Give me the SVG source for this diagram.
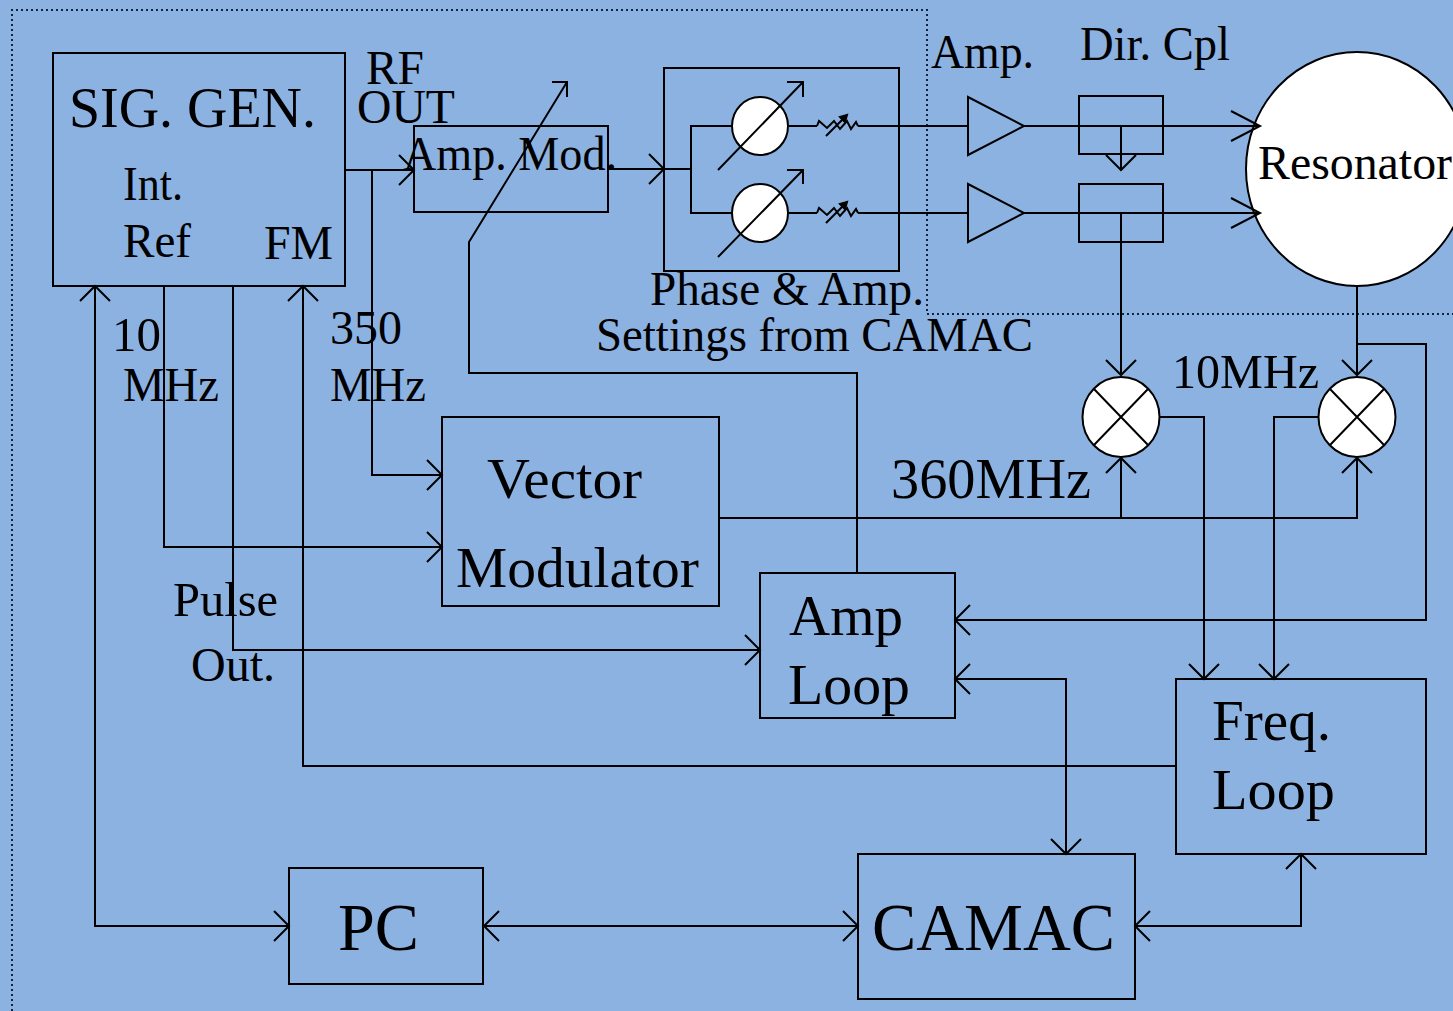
<svg xmlns="http://www.w3.org/2000/svg" width="1453" height="1011" viewBox="0 0 1453 1011">
<style>
text{font-family:"Liberation Serif","Times New Roman",serif;fill:#000}
.b{fill:none;stroke:#000;stroke-width:2}
.c{fill:none;stroke:#000;stroke-width:2}
.w{fill:#fff;stroke:#000;stroke-width:2}
.d{fill:none;stroke:#10233f;stroke-width:2;stroke-dasharray:2 3}
.s{font-size:48px}
.m{font-size:58px}
.l{font-size:67px}
</style>
<defs>
<marker id="a" markerUnits="userSpaceOnUse" markerWidth="18" markerHeight="34" refX="15" refY="15" orient="auto-start-reverse" viewBox="0 0 18 30" overflow="visible"><path d="M0 0L15 15L0 30" fill="none" stroke="#000" stroke-width="2"/></marker>
<marker id="r" markerUnits="userSpaceOnUse" markerWidth="32" markerHeight="34" refX="29" refY="15" orient="auto" viewBox="0 0 32 30" overflow="visible"><path d="M0 0L29 15L0 30" fill="none" stroke="#000" stroke-width="2"/></marker>
</defs>
<rect width="1453" height="1011" fill="#8cb2e2"/>
<path class="d" d="M12 1011V10H927V314H1453"/>
<g id="resonator"><ellipse class="w" cx="1357" cy="169" rx="111" ry="117"/>
<text class="s" x="1258" y="179" textLength="194" lengthAdjust="spacingAndGlyphs">Resonator</text></g>
<g id="connectors">
<path class="c" d="M345 170H414" marker-end="url(#a)"/>
<path class="c" d="M608 169H664" marker-end="url(#a)"/>
<path class="c" d="M664 169H691M760 126H691V213H760"/>
<path class="c" d="M789 126H817M858 126H968M789 213H817M858 213H968"/>
<path class="c" d="M1024 126H1260" marker-end="url(#r)"/>
<path class="c" d="M1024 213H1260" marker-end="url(#r)"/>
<path class="c" d="M1121 125V170" marker-end="url(#a)"/>
<path class="c" d="M1121 213V375" marker-end="url(#a)"/>
<path class="c" d="M1357 286V375" marker-end="url(#a)"/>
<path class="c" d="M372 170V475H442" marker-end="url(#a)"/>
<path class="c" d="M164 286V547H442" marker-end="url(#a)"/>
<path class="c" d="M233 286V650H760" marker-end="url(#a)"/>
<path class="c" d="M719 518H1357V458" marker-end="url(#a)"/>
<path class="c" d="M1121 518V458" marker-end="url(#a)"/>
<path class="c" d="M1357 344H1426V620H955" marker-end="url(#a)"/>
<path class="c" d="M1160 417H1204V679" marker-end="url(#a)"/>
<path class="c" d="M1318 417H1274V679" marker-end="url(#a)"/>
<path class="c" d="M955 679H1066V854" marker-start="url(#a)" marker-end="url(#a)"/>
<path class="c" d="M1176 766H303V286" marker-end="url(#a)"/>
<path class="c" d="M95 286V926H289" marker-start="url(#a)" marker-end="url(#a)"/>
<path class="c" d="M484 926H858" marker-start="url(#a)" marker-end="url(#a)"/>
<path class="c" d="M1135 926H1301V854" marker-start="url(#a)" marker-end="url(#a)"/>
<path class="c" d="M857 573V373H469V242L567 82M552 82H567V97"/>
</g>
<g id="sig-gen"><rect class="b" x="53" y="53" width="292" height="233"/>
<text class="m" x="69" y="127" textLength="247" lengthAdjust="spacingAndGlyphs">SIG. GEN.</text>
<text class="s" x="123" y="200" textLength="60" lengthAdjust="spacingAndGlyphs">Int.</text>
<text class="s" x="123" y="257" textLength="68" lengthAdjust="spacingAndGlyphs">Ref</text>
<text class="s" x="264" y="259" textLength="69" lengthAdjust="spacingAndGlyphs">FM</text></g>
<g id="amp-mod"><rect class="b" x="414" y="126" width="194" height="86"/>
<text class="s" x="403" y="170" textLength="214" lengthAdjust="spacingAndGlyphs">Amp. Mod.</text></g>
<g id="phase-amp"><rect class="b" x="664" y="68" width="235" height="203"/>
<ellipse class="w" cx="760" cy="126" rx="28" ry="29"/>
<ellipse class="w" cx="760" cy="213" rx="28" ry="29"/>
<path class="c" d="M718 170L803 82M787 82H803V97M718 257L803 170M787 170H803V184"/>
<path id="res1" class="c" d="M817 126L819 121L827 128L834 121L840 129L847 121L851 129L856 122L858 126M826 136L845 117"/>
<path d="M840 117L847 115L845 122Z" stroke="#000" stroke-width="2"/>
<path class="c" d="M817 213L819 208L827 215L834 208L840 216L847 208L851 216L856 209L858 213M826 223L845 204"/>
<path d="M840 204L847 202L845 209Z" stroke="#000" stroke-width="2"/></g>
<g id="amp1"><path class="b" d="M968 97V155L1024 126Z"/></g>
<g id="amp2"><path class="b" d="M968 184V242L1024 213Z"/></g>
<g id="coupler1"><rect class="b" x="1079" y="96" width="84" height="58"/></g>
<g id="coupler2"><rect class="b" x="1079" y="184" width="84" height="58"/></g>
<g id="mixer1"><ellipse class="w" cx="1121" cy="417" rx="38.500" ry="40"/><path class="c" d="M1094 389L1148 445M1148 389L1094 445"/></g>
<g id="mixer2"><ellipse class="w" cx="1357" cy="417" rx="38.500" ry="40"/><path class="c" d="M1330 389L1384 445M1384 389L1330 445"/></g>
<g id="vector-modulator"><rect class="b" x="442" y="417" width="277" height="189"/>
<text class="m" x="487" y="498" textLength="155" lengthAdjust="spacingAndGlyphs">Vector</text>
<text class="m" x="456" y="587" textLength="243" lengthAdjust="spacingAndGlyphs">Modulator</text></g>
<g id="amp-loop"><rect class="b" x="760" y="573" width="195" height="145"/>
<text class="m" x="789" y="635" textLength="114" lengthAdjust="spacingAndGlyphs">Amp</text>
<text class="m" x="788" y="704" textLength="122" lengthAdjust="spacingAndGlyphs">Loop</text></g>
<g id="freq-loop"><rect class="b" x="1176" y="679" width="250" height="175"/>
<text class="m" x="1212" y="740" textLength="119" lengthAdjust="spacingAndGlyphs">Freq.</text>
<text class="m" x="1212" y="809" textLength="123" lengthAdjust="spacingAndGlyphs">Loop</text></g>
<g id="pc"><rect class="b" x="289" y="868" width="194" height="116"/>
<text class="l" x="338" y="950" textLength="81" lengthAdjust="spacingAndGlyphs">PC</text></g>
<g id="camac"><rect class="b" x="858" y="854" width="277" height="145"/>
<text class="l" x="872" y="950" textLength="243" lengthAdjust="spacingAndGlyphs">CAMAC</text></g>
<g id="labels">
<text class="s" x="366" y="84" textLength="58" lengthAdjust="spacingAndGlyphs">RF</text>
<text class="s" x="357" y="123" textLength="98" lengthAdjust="spacingAndGlyphs">OUT</text>
<text class="s" x="931" y="68" textLength="103" lengthAdjust="spacingAndGlyphs">Amp.</text>
<text class="s" x="1080" y="60" textLength="150" lengthAdjust="spacingAndGlyphs">Dir. Cpl</text>
<text class="s" x="650" y="305" textLength="274" lengthAdjust="spacingAndGlyphs">Phase &amp; Amp.</text>
<text class="s" x="596" y="351" textLength="437" lengthAdjust="spacingAndGlyphs">Settings from CAMAC</text>
<text class="s" x="112" y="351" textLength="49" lengthAdjust="spacingAndGlyphs">10</text>
<text class="s" x="123" y="401" textLength="96" lengthAdjust="spacingAndGlyphs">MHz</text>
<text class="s" x="330" y="344" textLength="72" lengthAdjust="spacingAndGlyphs">350</text>
<text class="s" x="330" y="401" textLength="96" lengthAdjust="spacingAndGlyphs">MHz</text>
<text class="s" x="1172" y="388" textLength="147" lengthAdjust="spacingAndGlyphs">10MHz</text>
<text class="m" x="891" y="498" textLength="200" lengthAdjust="spacingAndGlyphs">360MHz</text>
<text class="s" x="173" y="616" textLength="105" lengthAdjust="spacingAndGlyphs">Pulse</text>
<text class="s" x="191" y="681" textLength="84" lengthAdjust="spacingAndGlyphs">Out.</text>
</g>
</svg>
